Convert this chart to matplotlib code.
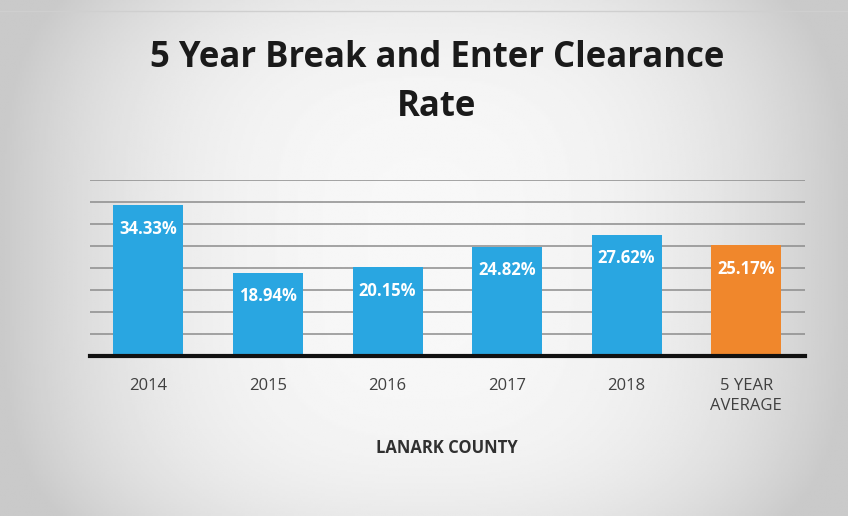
import matplotlib.pyplot as plt
import numpy as np

# data
categories = ["2014", "2015", "2016", "2017", "2018", "5 YEAR\nAVERAGE"]
rates = [34.33, 18.94, 20.15, 24.82, 27.62, 25.17]
bar_colors = ["#29a6e1"] * 5 + ["#f0872c"]

plt.rcParams['font.family'] = ['Open Sans', 'DejaVu Sans']

fig = plt.figure(figsize=(8.48, 5.16), dpi=100)
fig.patch.set_facecolor("#e4e4e4")

# scanned-page look: grey edges fading to white in the middle
bg = fig.add_axes([0, 0, 1, 1], zorder=-10)
xs = np.linspace(-1, 1, 400)
ys = np.linspace(-1, 1, 240)
gx, gy = np.meshgrid(xs, ys)
shade = 1 - 0.18 * np.clip(np.abs(gx) ** 2.5 + 0.3 * np.abs(gy) ** 4, 0, 1) - 0.03
bg.imshow(shade, cmap="gray", vmin=0, vmax=1, aspect="auto", extent=[0, 1, 0, 1])
bg.axhline(0.978, color="#cfcfcf", lw=1)
bg.axis("off")

ax = fig.add_axes([0.106, 0.310, 0.843, 0.341])
ax.set_facecolor("none")

x = np.arange(len(categories))
bars = ax.bar(x, rates, width=0.585, color=bar_colors, zorder=3)

for xi, v in zip(x, rates):
    ax.annotate(f"{v:.2f}%", (xi, v), xytext=(0, -17), textcoords="offset points",
                ha="center", va="center", color="white", fontsize=12,
                fontweight="bold", zorder=4)

ax.set_ylim(0, 40)
ax.set_xlim(-0.49, 5.49)
ax.set_yticks(np.arange(5, 41, 5))
ax.yaxis.grid(True, color="#8c8c8c", lw=1.1, zorder=0)
ax.set_yticklabels([])
ax.tick_params(axis="y", length=0)
ax.tick_params(axis="x", length=0, pad=16, labelsize=12, labelcolor="#404040")
ax.set_xticks(x)
ax.set_xticklabels(categories, linespacing=1.3)
for s in ["top", "right", "left"]:
    ax.spines[s].set_visible(False)
ax.spines["bottom"].set_linewidth(3)
ax.spines["bottom"].set_color("#111111")
ax.spines["bottom"].set_zorder(5)

ax.set_xlabel("LANARK COUNTY", fontsize=12, fontweight="bold", color="#303030", labelpad=18)

fig.text(0.515, 0.84, "5 Year Break and Enter Clearance\nRate", ha="center", va="center",
         fontsize=25, fontweight="bold", color="#1a1a1a", linespacing=1.5)

fig.savefig("out.png", dpi=100, facecolor=fig.get_facecolor())
